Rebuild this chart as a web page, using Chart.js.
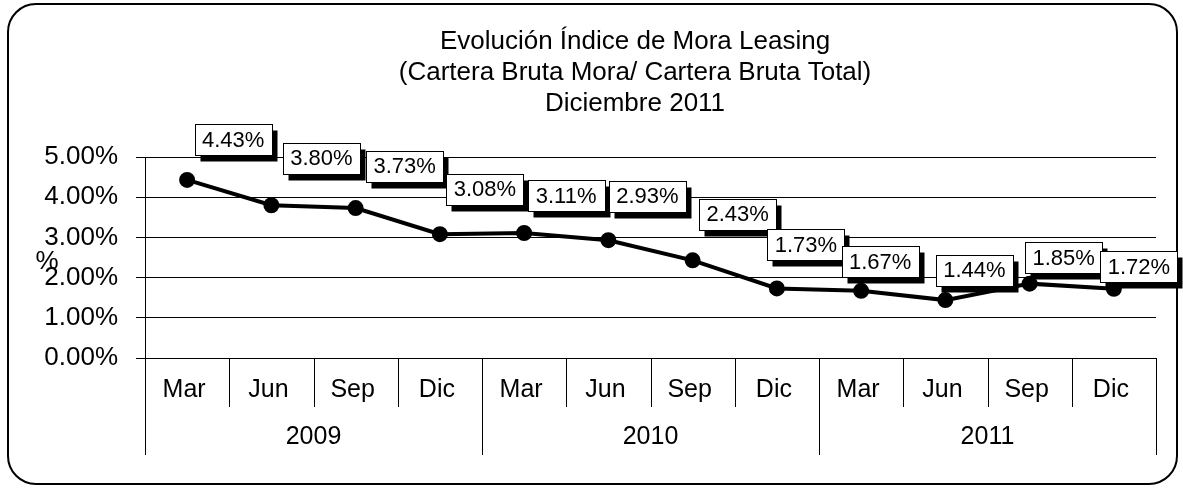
<!DOCTYPE html>
<html>
<head>
<meta charset="utf-8">
<title>Evolución Índice de Mora Leasing</title>
<script src="https://cdn.jsdelivr.net/npm/chart.js@4.4.1/dist/chart.umd.min.js"></script>
<style>
  html, body { margin: 0; padding: 0; background: #fff; }
  canvas { display: block; }
</style>
</head>
<body>
<canvas id="moraChart" width="1183" height="488"></canvas>
<script>
/* ── Data ───────────────────────────────────────────────────── */
var months = ['Mar', 'Jun', 'Sep', 'Dic', 'Mar', 'Jun', 'Sep', 'Dic', 'Mar', 'Jun', 'Sep', 'Dic'];
var years = ['2009', '2010', '2011'];
var moraValues = [4.43, 3.80, 3.73, 3.08, 3.11, 2.93, 2.43, 1.73, 1.67, 1.44, 1.85, 1.72];
var titleLines = ['Evolución Índice de Mora Leasing', '(Cartera Bruta Mora/ Cartera Bruta Total)', 'Diciembre 2011'];

var FONT = 'Arial, "Liberation Sans", sans-serif';
Chart.defaults.font.family = FONT;
Chart.defaults.color = '#000';

/* ── Frame, title, "%" and the two-level category axis ──────── */
var decorPlugin = {
  id: 'decor',
  beforeDraw: function(chart) {
    var ctx = chart.ctx;
    ctx.save();
    ctx.fillStyle = '#fff';
    ctx.fillRect(0, 0, chart.width, chart.height);
    // rounded outer frame
    var x0 = 8, y0 = 4, x1 = 1177, y1 = 484, r = 28;
    ctx.beginPath();
    ctx.moveTo(x0 + r, y0);
    ctx.lineTo(x1 - r, y0);
    ctx.arcTo(x1, y0, x1, y0 + r, r);
    ctx.lineTo(x1, y1 - r);
    ctx.arcTo(x1, y1, x1 - r, y1, r);
    ctx.lineTo(x0 + r, y1);
    ctx.arcTo(x0, y1, x0, y1 - r, r);
    ctx.lineTo(x0, y0 + r);
    ctx.arcTo(x0, y0, x0 + r, y0, r);
    ctx.closePath();
    ctx.lineWidth = 2;
    ctx.strokeStyle = '#000';
    ctx.stroke();
    ctx.restore();
  },
  afterDraw: function(chart) {
    var ctx = chart.ctx;
    var xs = chart.scales.x;
    var area = chart.chartArea;
    ctx.save();
    ctx.fillStyle = '#000';
    ctx.strokeStyle = '#000';
    ctx.lineWidth = 1;

    // title
    ctx.textAlign = 'center';
    ctx.textBaseline = 'middle';
    ctx.font = '26px ' + FONT;
    titleLines.forEach(function(line, i) {
      ctx.fillText(line, 635, 42 + i * 31);
    });

    // y axis "%" title (not rotated)
    ctx.font = '26px ' + FONT;
    ctx.fillText('%', 47, 262);

    // category separators
    var half = (xs.getPixelForValue(1) - xs.getPixelForValue(0)) / 2;
    var monthRowBottom = area.bottom + 49;
    var yearRowBottom = area.bottom + 97;
    for (var i = 0; i <= months.length; i++) {
      var bx = Math.round(i < months.length ? xs.getPixelForValue(i) - half : xs.getPixelForValue(i - 1) + half) + 0.5;
      var isYear = i % 4 === 0;
      ctx.beginPath();
      ctx.moveTo(bx, area.bottom);
      ctx.lineTo(bx, isYear ? yearRowBottom : monthRowBottom);
      ctx.stroke();
    }

    // month labels
    ctx.font = '25px ' + FONT;
    months.forEach(function(m, i) {
      ctx.fillText(m, xs.getPixelForValue(i) - 3, area.bottom + 32);
    });

    // year labels
    years.forEach(function(y, g) {
      var cx = (xs.getPixelForValue(g * 4) + xs.getPixelForValue(g * 4 + 3)) / 2;
      ctx.fillText(y, cx, area.bottom + 79);
    });
    ctx.restore();
  }
};

/* ── Boxed data labels with a drop shadow ───────────────────── */
var boxLabelPlugin = {
  id: 'boxLabels',
  afterDatasetsDraw: function(chart, args, opts) {
    var ctx = chart.ctx;
    var meta = chart.getDatasetMeta(0);
    var w = 77, h = 31;
    ctx.save();
    ctx.font = '22px ' + FONT;
    ctx.textAlign = 'center';
    ctx.textBaseline = 'middle';
    meta.data.forEach(function(pt, i) {
      var off = opts.offsets[i];
      var cx = pt.x + off[0], cy = pt.y + off[1];
      var left = Math.round(cx - w / 2) + 0.5, top = Math.round(cy - h / 2) + 0.5;
      ctx.fillStyle = '#000';
      ctx.fillRect(left + 5, top + 6, w, h);
      ctx.fillStyle = '#fff';
      ctx.fillRect(left, top, w, h);
      ctx.strokeStyle = '#000';
      ctx.lineWidth = 1;
      ctx.strokeRect(left, top, w, h);
      ctx.fillStyle = '#000';
      ctx.fillText(moraValues[i].toFixed(2) + '%', cx, cy + 1);
    });
    ctx.restore();
  }
};

new Chart(document.getElementById('moraChart'), {
  type: 'line',
  data: {
    labels: months,
    datasets: [{
      data: moraValues,
      borderColor: '#000',
      borderWidth: 4,
      backgroundColor: '#000',
      pointBackgroundColor: '#000',
      pointBorderColor: '#000',
      pointRadius: 6,
      tension: 0,
      fill: false
    }]
  },
  options: {
    responsive: false,
    animation: false,
    events: [],
    layout: { padding: { top: 157, right: 27, bottom: 130, left: 0 } },
    plugins: {
      legend: { display: false },
      title: { display: false },
      tooltip: { enabled: false },
      boxLabels: {
        offsets: [[46, -40], [50, -47], [49, -42], [45, -45], [42, -37], [39, -44],
                  [45, -46], [29, -44], [19, -29], [29, -30], [34, -26], [25, -22]]
      }
    },
    scales: {
      x: {
        display: false,
        offset: true
      },
      y: {
        min: 0, max: 5,
        afterFit: function(s) { s.width = 145; },
        border: { display: true, color: '#000', width: 1 },
        grid: { color: '#000', lineWidth: 1, drawTicks: true, tickLength: 9, tickColor: '#000' },
        ticks: {
          stepSize: 1,
          padding: 18,
          color: '#000',
          font: { size: 26 },
          callback: function(v) { return v.toFixed(2) + '%'; }
        }
      }
    }
  },
  plugins: [decorPlugin, boxLabelPlugin]
});
</script>
</body>
</html>
